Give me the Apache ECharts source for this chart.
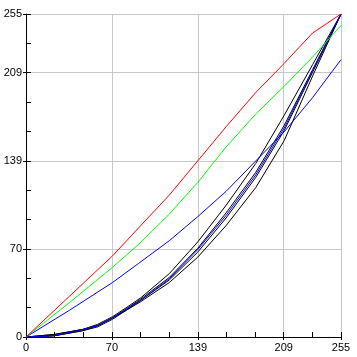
<!DOCTYPE html>
<html>
<head>
<meta charset="utf-8">
<script src="https://cdn.jsdelivr.net/npm/echarts@6/dist/echarts.min.js"></script>
<style>html,body{margin:0;padding:0;background:#fff}#c{width:357px;height:357px}</style>
</head>
<body>
<div id="c"></div>
<script>
// Axis tick labels (0..255 split in 11 steps, every 3rd labeled)
var tickLabels = ['0', '70', '139', '209', '255'];
var axisMax = 255;
var minorSteps = 11;

// Curves: x positions and output values
var rgbX = [0, 35, 70, 91, 116, 139, 162, 186, 209, 232, 255];
var redY = [0, 32, 64, 86, 112, 139, 166, 193, 216, 240, 255];
var greenY = [0, 27, 55, 73, 97, 122, 150, 176, 198, 221, 246];
var blueY = [0, 21, 43, 58, 76, 95, 115, 139, 162, 189, 219];

var blackX = [0, 23, 46, 58, 70, 81, 93, 116, 139, 162, 186, 209, 232, 255];
var blackOuterA = [0, 2, 6, 10, 16, 23, 31, 50, 75, 104, 137, 175, 215, 255];
var blackMidA   = [0, 2, 6, 9, 15, 22, 30, 47, 70, 98, 130, 167, 211, 255];
var blueMid     = [0, 1, 6, 9, 15, 22, 29, 46, 69, 96, 128, 165, 210, 255];
var blackMidB   = [0, 1, 5, 9, 15, 21, 29, 45, 67, 94, 126, 163, 209, 255];
var blackOuterB = [0, 1, 5, 8, 14, 21, 28, 43, 63, 88, 118, 155, 206, 255];

function pts(xs, ys) { return xs.map(function (x, i) { return [x, ys[i]]; }); }
function line(xs, ys, color) {
  return {
    type: 'line', data: pts(xs, ys), showSymbol: false, symbol: 'none',
    xAxisIndex: 0, yAxisIndex: 0, animation: false, silent: true,
    lineStyle: { color: color, width: 1 }
  };
}

var fontSpec = { fontFamily: 'Liberation Sans, Arial, sans-serif', fontSize: 11, color: '#000' };

function mainAxis(pos) {
  return {
    type: 'value', position: pos, min: 0, max: axisMax,
    interval: axisMax * 3 / minorSteps,
    axisLine: { show: true, lineStyle: { color: '#000', width: 1 } },
    axisTick: { show: true, length: 3, lineStyle: { color: '#000' } },
    axisLabel: Object.assign({
      margin: pos === 'left' ? 4 : 5,
      showMaxLabel: true, showMinLabel: true,
      formatter: function (v, i) { return tickLabels[i] !== undefined ? tickLabels[i] : ''; }
    }, fontSpec),
    splitLine: { show: true, lineStyle: { color: '#c8c8c8', width: 1 } }
  };
}
function minorAxis(pos) {
  return {
    type: 'value', position: pos, min: 0, max: axisMax, offset: 2,
    interval: axisMax / minorSteps,
    axisLine: { show: false },
    axisTick: { show: true, inside: true, length: 5, lineStyle: { color: '#000' } },
    axisLabel: { show: false },
    splitLine: { show: false }
  };
}

var chart = echarts.init(document.getElementById('c'), null, { renderer: 'canvas' });
chart.setOption({
  backgroundColor: '#fff',
  animation: false,
  grid: { left: 26, right: 16, top: 14, bottom: 20, containLabel: false },
  xAxis: [mainAxis('bottom'), minorAxis('bottom')],
  yAxis: [mainAxis('left'), minorAxis('left')],
  series: [
    line(blackX, blackOuterA, '#000'),
    line(blackX, blackMidA, '#000'),
    line(blackX, blackMidB, '#000'),
    line(blackX, blackOuterB, '#000'),
    line(blackX, blueMid, '#0000ff'),
    line(rgbX, blueY, '#0000ff'),
    line(rgbX, greenY, '#00ff00'),
    line(rgbX, redY, '#ff0000')
  ]
});
</script>
</body>
</html>
